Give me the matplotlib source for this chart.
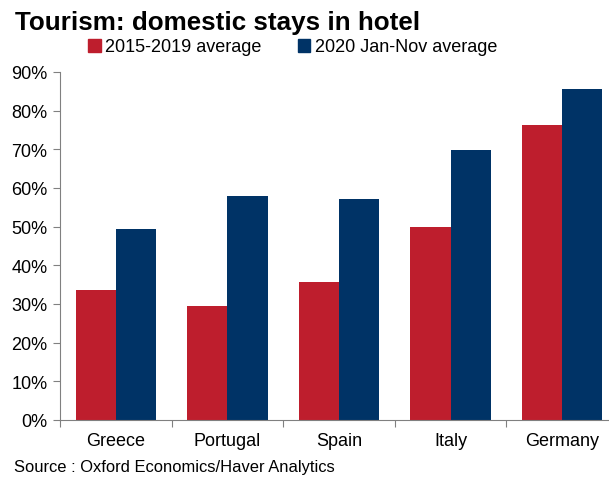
import numpy as np
import matplotlib.pyplot as plt
from matplotlib.patches import Patch
from matplotlib.ticker import PercentFormatter

countries = ['Greece', 'Portugal', 'Spain', 'Italy', 'Germany']
avg_2015_2019 = [33.6, 29.6, 35.8, 49.9, 76.3]
avg_2020 = [49.4, 57.9, 57.1, 69.8, 85.6]
series_labels = ['2015-2019 average', '2020 Jan-Nov average']

red = '#BE1E2D'
blue = '#003366'

plt.rcParams['font.family'] = ['Liberation Sans', 'DejaVu Sans']

W, H = 609, 481
fig = plt.figure(figsize=(W / 100, H / 100), dpi=100)
ax = fig.add_axes([60 / W, 1 - 421 / H, 558 / W, 348 / H])

x = np.arange(len(countries))
bw = 0.36
ax.bar(x - bw / 2, avg_2015_2019, bw, color=red)
ax.bar(x + bw / 2, avg_2020, bw, color=blue)

ax.set_xlim(-0.5, len(countries) - 0.5)
ax.set_ylim(0, 90)
ax.set_yticks(range(0, 91, 10))
ax.yaxis.set_major_formatter(PercentFormatter(decimals=0))
ax.set_xticks(np.arange(len(countries) + 1) - 0.5)
ax.set_xticklabels([])
ax.set_xticks(x, minor=True)
ax.set_xticklabels(countries, minor=True, fontsize=13)
ax.tick_params(axis='x', which='minor', length=0, pad=9)
ax.tick_params(axis='x', which='major', length=5, color='#808080', direction='out')
ax.tick_params(axis='y', length=5, color='#808080', labelsize=13, pad=4)

for s in ['top', 'right']:
    ax.spines[s].set_visible(False)
for s in ['left', 'bottom']:
    ax.spines[s].set_color('#808080')

fig.text(15 / W, 1 - 23 / H, 'Tourism: domestic stays in hotel', fontsize=18.7,
         fontweight='bold', va='center', ha='left')

handles = [Patch(color=red), Patch(color=blue)]
fig.legend(handles, series_labels, loc='center left', bbox_to_anchor=(88 / W, 1 - 48 / H),
           ncol=2, frameon=False, fontsize=13, handlelength=0.7, handleheight=0.7,
           handletextpad=0.25, columnspacing=2.0, borderpad=0, borderaxespad=0)

fig.text(14 / W, 1 - 468 / H, 'Source : Oxford Economics/Haver Analytics', fontsize=11.9,
         va='center', ha='left')

fig.savefig('out.png', dpi=100)
